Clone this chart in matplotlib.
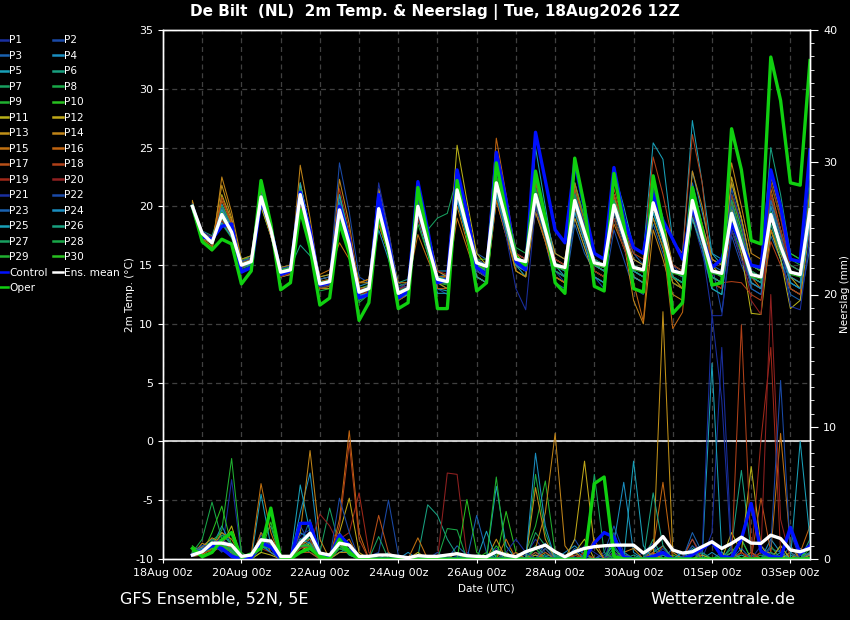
import numpy as np
import pandas as pd
import matplotlib
matplotlib.use('Agg')
import matplotlib.pyplot as plt
import matplotlib.dates as mdates
from matplotlib.ticker import MultipleLocator

# 6-hourly GFS ensemble output, +6h .. +384h from 18Aug2026 12Z
times = pd.date_range('2026-08-18 18:00', periods=64, freq='6h')
tick_days = pd.date_range('2026-08-18', '2026-09-03', freq='2D')

# 2m temperature (degC)
t_mean = [20.0, 17.7, 16.9, 19.3, 17.8, 15.0, 15.3, 20.8, 18.0, 14.4, 14.6, 21.0, 17.5,
          13.4, 13.6, 19.7, 16.8, 12.7, 13.0, 19.8, 16.5, 12.6, 13.0, 20.0, 16.8,
          13.8, 13.6, 21.4, 18.2, 15.2, 14.9, 22.0, 18.8, 15.5, 15.3, 21.0, 18.0,
          15.0, 14.8, 20.5, 17.8, 15.2, 15.0, 20.1, 17.5, 14.8, 14.6, 20.3, 17.6,
          14.5, 14.3, 20.5, 17.4, 14.5, 14.3, 19.4, 16.8, 14.2, 14.0, 19.3, 16.6,
          14.4, 14.2, 19.7]
t_control = [20.0, 17.4, 17.2, 18.3, 18.5, 14.4, 14.8, 20.5, 18.2, 14.2, 14.5, 21.2, 18.0,
             13.3, 13.5, 20.0, 17.2, 12.2, 12.5, 21.0, 17.0, 12.2, 12.8, 22.1, 18.0,
             13.5, 13.8, 23.1, 19.5, 14.8, 14.2, 24.6, 20.5, 15.3, 14.6, 26.3, 22.2,
             18.0, 16.9, 23.7, 19.8, 16.0, 15.5, 23.3, 19.0, 16.5, 16.0, 21.0, 18.8,
             17.2, 15.5, 20.0, 17.5, 14.8, 15.5, 18.5, 16.8, 15.0, 14.8, 23.1, 20.0,
             15.5, 15.3, 24.8]
t_oper = [20.0, 17.0, 16.3, 17.2, 16.8, 13.4, 14.5, 22.2, 18.5, 12.9, 13.5, 19.7, 16.5,
          11.6, 12.2, 18.6, 16.0, 10.3, 11.8, 19.4, 16.2, 11.3, 11.8, 21.6, 17.5,
          11.3, 11.3, 22.2, 18.0, 12.8, 13.5, 23.7, 19.5, 15.7, 15.0, 23.0, 19.0,
          13.5, 12.6, 24.1, 20.0, 13.2, 12.8, 22.8, 18.5, 13.0, 12.7, 22.6, 18.5,
          10.9, 11.8, 21.6, 18.0, 13.3, 13.5, 26.6, 23.1, 17.1, 16.8, 32.7, 29.0,
          22.0, 21.8, 32.4]

p01 = [20.3, 17.5, 17.2, 19.8, 18, 15.2, 15.5, 21.2, 18.3, 14, 14.3, 20.5, 17.2, 13, 13.4, 20.5, 17.5,
       12.5, 13, 20.8, 17, 13, 13.2, 21, 17.5, 14.5, 14, 22, 18.5, 15, 14.5, 23, 19.5, 16, 15.5, 20, 17.5,
       14.5, 13.5, 19, 16.5, 14, 13.5, 21, 18, 15.5, 15, 22, 18.5, 15, 14, 19, 16, 13, 12.5, 18, 16,
       13.5, 13, 21, 18, 15, 14.5, 18]
p02 = [20.1, 17.8, 17.3, 19, 17.6, 14.8, 15, 20.5, 17.8, 14.6, 14.8, 21.5, 18, 13.8, 14, 23.7, 19.5,
       14, 13.5, 21.5, 17.5, 13.5, 13, 19, 16, 13, 12.5, 20.5, 17.5, 14, 13.5, 21, 18, 15, 14.5, 22.5, 19,
       15.5, 15, 21.5, 18, 14, 13, 18, 15.5, 13, 12.5, 19, 16.5, 14, 13.5, 21.5, 18, 15, 11, 17.5, 15,
       13, 12.5, 20, 17.5, 13.5, 13, 22]
p03 = [19.9, 17.4, 16.8, 18.8, 17.5, 15.3, 15.8, 21.8, 18.5, 14.8, 15, 20, 17, 13.2, 13.3, 18.5, 16,
       12, 12.5, 19, 16, 12, 12.5, 21.5, 17.5, 14, 14.2, 22.5, 19, 16, 15.5, 22.5, 19, 15, 14.5, 19.5, 17,
       13.5, 13, 18.5, 16, 14.5, 14, 21, 18, 16, 15, 18.5, 16, 13.5, 13, 22, 18.5, 15.5, 15, 20.5, 17,
       13, 12.5, 17.5, 15.5, 12.5, 12, 16.5]
p04 = [20.2, 17.6, 17, 20.2, 18.3, 15.4, 15.2, 20.2, 17.5, 14.2, 14.4, 21.8, 18.2, 13.6, 13.5, 19, 16.5,
       13.2, 13.5, 18, 15.5, 12.5, 13, 20, 17, 14.5, 14.5, 21, 17.5, 14.5, 14, 21.5, 18.5, 15, 14.5, 22, 19,
       16, 15.5, 20, 17.5, 15, 14.5, 19, 16.5, 14, 13.5, 21, 18, 15, 14.5, 23, 19.5, 16, 15.5, 21, 18,
       14.5, 14, 18.5, 16, 13.5, 13, 20.5]
p05 = [20, 17.3, 16.9, 19.5, 18, 14.9, 15, 21, 18, 14, 14.2, 20.8, 17.5, 13.5, 13.7, 20.5, 17,
       12.5, 12.8, 19.5, 16.5, 12.8, 13, 19, 16, 13, 12.8, 20.5, 17.5, 14.5, 14, 21, 18, 15, 14, 20.5, 17.5,
       14, 13.5, 22, 19, 15.5, 15, 23, 20, 16.5, 16, 25.4, 24, 17, 16, 27.3, 22, 16, 15, 20, 17,
       13.5, 13, 18, 15.5, 13, 12.5, 19]
p06 = [19.8, 17.9, 17.5, 20, 18.2, 15.5, 15.8, 20, 17.5, 14.5, 14.8, 16.7, 15.8, 14, 14.2, 18.5, 16.5,
       13, 13.2, 20.5, 17, 13.5, 13.8, 20.5, 17.5, 14, 13.8, 21, 18, 14.8, 14.5, 22.5, 19, 16, 15.5, 20.5, 17.5,
       14.5, 14, 21.5, 18.5, 15.5, 15, 19.5, 17, 14, 13.5, 21.5, 18.5, 14.5, 14, 19.5, 17, 14, 13.5, 22, 19,
       15, 14.5, 25, 21, 16, 15.5, 21]
p07 = [20.1, 17.7, 17.1, 19, 17.7, 14.7, 15, 20.5, 18, 14.8, 15, 21.2, 17.8, 13, 13.2, 20, 17,
       12.8, 13, 19.5, 16.5, 13.2, 13.5, 19.5, 18, 19, 19.4, 22.5, 19, 15.5, 15, 22, 19, 15.5, 15, 20, 17.5,
       15, 14.5, 19.5, 17, 14.5, 14, 20.5, 18, 15, 14.5, 19.5, 17, 14, 13.5, 21, 18, 14.5, 14, 20, 17.5,
       15, 14.5, 19.5, 17, 14.5, 14, 21.5]
p08 = [19.7, 17, 16.5, 19.5, 18, 15, 15.5, 21.5, 18.5, 14, 14.5, 20.5, 17.5, 12.8, 13, 19.5, 16.5,
       11.8, 12.5, 20.5, 17, 12, 12.5, 20.5, 17, 13.5, 13, 21, 18, 15, 15, 23.5, 20, 16.5, 16, 21.5, 18.5,
       15.5, 15, 20.5, 17.5, 14, 13.5, 19.5, 17, 14.5, 14, 20.5, 17.5, 13.5, 13, 19, 16.5, 13, 12.5, 19.5, 17,
       14, 13.5, 20.5, 18, 15.5, 15, 20]
p09 = [20, 17.5, 17, 18.5, 17.3, 14.5, 14.8, 20.5, 17.8, 14.2, 14.4, 21.5, 18, 13.6, 13.8, 19, 16.5,
       13, 13.3, 20, 17, 12.8, 13, 18.5, 16, 13.5, 13.3, 20.5, 17.5, 14, 13.5, 21, 18, 15.5, 15, 22, 19,
       15, 14.5, 21, 18, 15.5, 15, 19, 16.5, 15, 14.5, 20, 17.5, 14, 13.5, 20.5, 17.5, 14.5, 14, 18.5, 16,
       14, 13.5, 18, 16, 14, 13.5, 19.5]
p10 = [19.9, 17.2, 16.6, 20, 18.5, 15.5, 15.6, 20, 17.5, 14.5, 14.7, 20.5, 17.5, 13.5, 13.5, 21, 17.5,
       12, 12.5, 19, 16, 12.5, 13, 21, 17.5, 13.5, 13.5, 21.5, 18.5, 15.5, 15.5, 21, 18, 15, 14.5, 21.5, 18.5,
       14.5, 14, 22, 19, 16, 15.5, 21, 18, 14.5, 14, 19, 16.5, 13.5, 13, 20, 17.5, 14, 13.5, 21, 18,
       15, 14.5, 22, 19, 16, 15.5, 21]
p11 = [20.4, 17, 16.4, 21, 18.8, 15, 15.2, 21, 18, 14, 14.3, 22, 18, 13, 13, 20, 17,
       12.5, 13, 19, 16.5, 12.5, 12.8, 20.5, 17.5, 14, 14, 25.2, 20.5, 16, 15, 21, 18, 14.5, 14, 20.5, 17.5,
       14, 13.5, 21, 18, 15, 14.5, 20, 17.5, 14, 13.5, 22, 19, 15, 14.5, 21.5, 18, 15, 14, 20, 16,
       10.9, 10.8, 18, 15.5, 11.3, 12, 18.5]
p12 = [20.2, 17.6, 17, 19.8, 18.2, 15.2, 15, 20, 17.5, 14.6, 14.8, 21, 17.5, 13.8, 14, 20.5, 17.5,
       13.5, 13.8, 18.5, 16, 12.5, 13, 21.5, 18, 14.5, 14, 23, 19.5, 15.5, 14.5, 24, 20, 16, 15, 21, 18,
       15.5, 15, 19, 16.5, 14, 13.5, 20.5, 18, 15.5, 15, 21, 18, 14, 13, 19, 16.5, 13.5, 13, 22.5, 19,
       15, 14.5, 21, 18, 14, 13, 20]
p13 = [20.3, 17.3, 16.8, 21.8, 19, 15, 15.2, 22, 18.5, 14, 14.2, 21.5, 18, 14, 14.2, 19.5, 17,
       13.5, 13.5, 21.5, 18, 13, 13, 20.5, 17.5, 14, 14, 22, 18.5, 14.5, 14, 22.5, 19, 15, 14.5, 22.5, 19,
       16, 15.5, 21, 18, 15, 14.5, 19.5, 17, 14, 13.5, 20, 17.5, 14.5, 14, 21.5, 18.5, 15.5, 15, 22, 19,
       15, 14.5, 22.5, 19.5, 14.5, 14, 21]
p14 = [20.5, 17, 16.2, 22.5, 19.5, 15.5, 15.8, 21.5, 18.5, 14, 14.3, 23.5, 19, 13.5, 13.5, 22.3, 18.5,
       13, 13.2, 20.5, 17, 13.5, 13.5, 19.5, 16.5, 13.5, 13, 20, 17, 14, 13.5, 20.5, 17.5, 14.5, 14, 19.5, 17,
       14, 13.5, 20, 17, 14.5, 14, 21, 17, 12, 10, 18, 15.5, 12.5, 12, 23, 20, 15.5, 15, 23.7, 20,
       16, 15.5, 20.5, 17.5, 14.5, 14, 18.5]
p15 = [20, 17.8, 17.2, 19.5, 18, 15, 15.3, 20.5, 17.5, 14.8, 15, 20, 17, 14.2, 14.6, 16.9, 15.5,
       13.5, 13.8, 18.5, 16, 13, 13.5, 17.6, 15.5, 13.5, 13.5, 19, 16.5, 14, 13.5, 20.5, 17.5, 15, 14.5, 21.5, 18.5,
       14.5, 14, 22, 18.5, 15, 14.5, 18.5, 16.5, 14.5, 14, 19, 16.5, 13.5, 13, 19.5, 16.5, 14, 13.5, 20.5, 17.5,
       14.5, 14, 21.5, 18, 13, 12.5, 20]
p16 = [20.2, 17.5, 17, 20.5, 18.5, 15.2, 15.5, 21, 18, 14.3, 14.5, 21, 17.5, 13.2, 13.4, 19.5, 16.5,
       12.3, 12.8, 20, 17, 12.5, 13, 20.5, 17, 13, 13, 22.5, 19, 15.5, 15, 25.8, 21, 16, 15.5, 20, 17,
       14, 13.5, 20, 17, 14.5, 14, 20.5, 17.5, 13.5, 10.2, 20.5, 17, 9.6, 11, 21, 18, 14, 13.5, 19.5, 17,
       14, 13, 18, 16, 14, 13.5, 21]
p17 = [20.1, 17.2, 16.6, 20.8, 18.6, 15, 15.4, 21.3, 18.3, 14.5, 14.6, 21.5, 18, 13.6, 13.8, 20.5, 17.5,
       13, 13, 19, 16, 12, 12.5, 20, 17, 14, 14, 21, 18, 15, 14.5, 22.5, 19, 15.5, 15, 22, 19,
       15.5, 15, 21.5, 18.5, 15.5, 15, 21.5, 18.5, 15, 14.5, 21, 18, 14.5, 14, 20, 17, 13.5, 13, 18, 15.5,
       13.5, 13, 19.5, 17, 15, 14.5, 18.5]
p18 = [19.8, 17.6, 17.2, 19, 17.5, 14.8, 15.2, 20.5, 17.5, 14.3, 14.4, 20, 17, 13, 13.2, 19, 16.5,
       12.5, 12.8, 20, 17, 13, 13, 21, 17.5, 14, 13.5, 21.5, 18.5, 15, 14.5, 22, 19, 15.5, 15, 20.5, 18,
       15, 14.5, 20.5, 18, 15.5, 15, 21, 18.5, 16, 15.5, 24.2, 21, 17, 16, 26.1, 22, 14, 13.5, 13.6, 13.5,
       12.5, 12, 17, 15, 13, 12.5, 19.5]
p19 = [20, 17.8, 17.4, 18.8, 17.5, 15.3, 15.6, 20.8, 18, 14.6, 14.8, 20.5, 17.5, 13.2, 13.4, 21.5, 18,
       13, 13, 19.5, 16.5, 13, 13.2, 19, 16.5, 14.5, 14.2, 21, 18, 15, 14.5, 21.5, 18.5, 15, 14.5, 21, 18,
       14.5, 14, 19.5, 17, 15, 14.5, 20, 17.5, 15, 14.5, 20.5, 18, 14.5, 14, 21.5, 18.5, 13.5, 13, 21, 18.5,
       14, 13.5, 22, 19, 14.5, 14, 19]
p20 = [19.9, 17.4, 16.9, 19.5, 18, 15, 15.2, 20.8, 18, 14, 14.3, 21.5, 18, 13.5, 13.6, 20, 17,
       12.5, 12.8, 20, 17, 12.8, 13, 19.5, 16.5, 13.5, 13.5, 21.5, 18.5, 15, 14.5, 22.5, 19.5, 16, 15.5, 21.5, 18.5,
       15.5, 15, 20, 17.5, 14.5, 14, 19, 16.5, 14, 13.5, 21, 18, 15, 14.5, 20.5, 17.5, 14.5, 14, 19, 16.5,
       12, 10.8, 21, 18, 14.5, 14, 18]
p21 = [20.2, 17.9, 17.3, 19.2, 17.8, 14.6, 14.9, 21, 18, 14.2, 14.5, 21, 17.5, 13.5, 13.7, 20.5, 17.5,
       12.2, 12.5, 22, 18, 13, 13.5, 20.5, 17, 13.5, 13.5, 21.5, 18, 14.5, 14, 21, 17.5, 13, 11.2, 20, 17.5,
       15, 14.5, 19.5, 17, 14, 13.5, 20.5, 17.5, 14.5, 14, 21.5, 18, 14.5, 14, 19.5, 16.5, 10.7, 10.7, 18, 15.5,
       13.5, 13, 20, 17, 11.5, 11.2, 17.5]
p22 = [20, 17.6, 17.1, 19.6, 18, 15.1, 15.4, 20.3, 17.8, 14.7, 14.9, 20.8, 17.5, 13.3, 13.5, 19, 16.5,
       12.8, 13.2, 21, 17.5, 12.8, 13.2, 20.5, 17.5, 14, 13.8, 20.5, 17.5, 15, 14.5, 22, 19, 15.5, 15, 21.5, 18.5,
       14.5, 14, 21, 18.5, 15.5, 15, 19.5, 17, 14.5, 14, 20, 17.5, 14, 13.5, 20.5, 17.5, 14.5, 14, 21.5, 18.5,
       14.5, 14, 19, 16.5, 13.5, 13, 23]
p23 = [20.1, 17.5, 16.8, 19.9, 18.3, 15.3, 15.6, 21, 18.2, 14.4, 14.6, 20.5, 17.5, 13.8, 14, 20, 17,
       12.6, 12.9, 19, 16.5, 12.3, 12.8, 19.5, 16.5, 13.5, 13.5, 21, 18, 15.5, 15, 22, 19, 15, 14.5, 20.5, 17.5,
       14.5, 14, 20.5, 17.5, 15, 14.5, 20, 17.5, 15, 14.5, 19.5, 17, 14.5, 14, 21, 18, 15, 14.5, 20, 17.5,
       14, 13.5, 20.5, 17.5, 14.5, 14, 19]
p24 = [19.8, 17.7, 17, 18.6, 17.4, 15, 15.2, 20.6, 17.8, 14.5, 14.7, 21.3, 17.8, 13.4, 13.6, 20.3, 17.2,
       12.4, 12.6, 19.8, 16.5, 12.3, 12.6, 20, 17, 13.8, 13.6, 20.5, 17.5, 15, 14.5, 21.5, 18.5, 15.5, 15, 21, 18,
       15, 14.5, 20, 17.5, 15, 14.5, 20.5, 18, 14.5, 14, 20, 17.5, 14, 13.5, 20, 17, 14, 13.5, 19, 16.5,
       14, 13.5, 19.5, 17, 14, 13.5, 20.5]
p25 = [20, 17.4, 16.9, 19.7, 18.1, 15.1, 15.4, 21.5, 18.3, 14.6, 14.8, 22, 18, 13.4, 13.6, 21, 17.5,
       12.4, 12.6, 20.5, 17, 12.2, 12.5, 19.5, 16.5, 12.6, 12.6, 21, 17.5, 14, 13.5, 21, 18, 15, 14.5, 25, 20,
       15, 14, 19.5, 17, 14, 13.5, 20, 17.5, 14, 13.5, 19.5, 17, 14, 13.5, 19, 16.5, 13, 12.5, 19.5, 17,
       13.5, 13, 20, 17, 13.5, 13, 18.5]
p26 = [20.1, 17.6, 17, 19.3, 17.9, 14.9, 15.1, 20.7, 18, 14.4, 14.6, 21, 17.6, 13.4, 13.6, 19.5, 16.8,
       12.8, 13, 20, 16.8, 12.6, 13, 20, 16.8, 14, 13.8, 21.5, 18.2, 15, 14.5, 22, 18.8, 15.5, 15, 21, 18,
       15, 14.5, 20.5, 17.8, 15, 14.5, 20, 17.5, 14.5, 14, 20.5, 17.5, 14.5, 14, 20.5, 17.5, 14, 13.5, 19.5, 17,
       14, 13.5, 19, 16.5, 14.5, 14, 19.5]
p27 = [20, 17.5, 17, 19.2, 17.8, 15, 15.3, 20.9, 18, 14.3, 14.5, 21.2, 17.7, 13.5, 13.7, 20, 17,
       12.7, 13, 19.5, 16.5, 12.7, 13, 20.2, 17, 13.8, 13.6, 21.2, 18, 15.2, 14.8, 21.5, 18.5, 15.5, 15, 20.5, 17.5,
       14.5, 14, 21, 18, 15.5, 15, 20.5, 17.5, 15, 14.5, 20, 17.5, 14, 13.5, 20.5, 17.5, 14.5, 14, 20.5, 17.5,
       15, 14.5, 18.5, 16, 15, 14.5, 19]
p28 = [19.9, 17.6, 17.1, 19, 17.6, 15, 15.2, 20.4, 17.8, 14.5, 14.7, 20.7, 17.4, 13.3, 13.5, 19.3, 16.6,
       12.7, 13, 20.2, 16.8, 12.8, 13.1, 19.8, 16.8, 13.6, 13.4, 21.2, 18, 15, 14.6, 22.5, 19, 15.2, 15, 21.5, 18.5,
       15.2, 14.8, 20.2, 17.5, 15, 14.8, 20.5, 17.8, 14.8, 14.5, 20, 17.5, 14.5, 14.2, 20, 17.2, 14.5, 14, 19, 16.5,
       14.5, 14, 19.5, 17, 14.5, 14.2, 20]
p29 = [20, 17.5, 16.9, 19.5, 18, 15, 15.3, 21, 18.2, 14.6, 14.8, 21.5, 18, 13.4, 13.6, 20, 17,
       12.6, 12.9, 19.8, 16.5, 12.6, 13, 19.8, 16.8, 13.7, 13.5, 21.5, 18.2, 15.2, 14.9, 22, 18.8, 15.5, 15.3, 21, 18,
       15, 14.8, 20.5, 17.8, 15.2, 15, 20, 17.5, 14.8, 14.6, 20.3, 17.6, 14.5, 14.3, 20.5, 17.4, 14.5, 14.3, 19.4, 16.8,
       14.2, 14, 19.3, 16.6, 14.4, 14.2, 19.7]
p30 = [20.1, 17.7, 17.2, 19.4, 17.9, 15.1, 15.4, 20.6, 17.8, 14.3, 14.5, 20.8, 17.4, 13.5, 13.7, 19.5, 16.6,
       12.8, 13.1, 19.6, 16.4, 12.7, 13.1, 19.8, 16.6, 13.9, 13.7, 21.2, 18, 15, 14.7, 21.8, 18.6, 15.3, 15.1, 20.8, 17.8,
       14.8, 14.6, 20.3, 17.6, 15, 14.8, 19.9, 17.3, 14.6, 14.4, 20.1, 17.4, 14.3, 14.1, 20.3, 17.2, 14.3, 14.1, 19.2, 16.6,
       14, 13.8, 19.1, 16.4, 14.2, 14, 19.5]

# precipitation (mm / 6h)
r_mean = [0.3, 0.55, 1.2, 1.2, 1.05, 0.2, 0.3, 1.45, 1.35, 0.2, 0.2, 1.2, 1.95, 0.45, 0.3, 1.2, 1.05,
          0.2, 0.2, 0.3, 0.3, 0.2, 0.1, 0.25, 0.2, 0.2, 0.3, 0.4, 0.25, 0.2, 0.17, 0.55, 0.3, 0.17, 0.55, 0.8, 1.05,
          0.55, 0.17, 0.55, 0.8, 0.93, 1.0, 1.05, 1.05, 1.05, 0.45, 0.93, 1.7, 0.68, 0.45, 0.55, 0.93, 1.3, 0.8, 1.18, 1.65,
          1.2, 1.18, 1.8, 1.55, 0.68, 0.55, 0.8]
r_control = [0.3, 0.6, 1.0, 0.8, 0.2, 0, 0.1, 1.2, 0.9, 0, 0, 2.7, 2.7, 0.3, 0.1, 1.8, 1.05,
             0, 0, 0, 0, 0, 0, 0, 0, 0, 0, 0, 0, 0, 0, 0, 0, 0, 0, 0, 0,
             0, 0, 0, 0, 1.2, 2.0, 1.65, 0.17, 0, 0, 0.2, 0.5, 0, 0, 0.3, 0.8, 1.3, 0.2, 0.1, 1.5,
             4.2, 0.6, 0.2, 0.1, 2.4, 0.4, 1.0]
r_oper = [0.8, 0.17, 0.5, 1.45, 2.0, 0.1, 0.4, 0.8, 3.85, 0.1, 0, 0.5, 0.8, 0.2, 0, 1.5, 0.5,
          0, 0, 0, 0, 0, 0, 0, 0, 0, 0, 0, 0, 0, 0, 0, 0, 0, 0, 0, 0,
          0, 0, 0, 0, 5.7, 6.2, 0.2, 0, 0, 0, 0, 0, 0, 0, 0, 0, 0, 0, 0, 0,
          0, 0, 0, 0, 0, 0, 0]

r01 = [0.5, 0.8, 1.2, 0.5, 6.0, 0.2, 0, 1.0, 0.8, 0, 0, 1.5, 2.0, 0.3, 0, 1.0, 0.5, 0, 0, 0, 0, 0, 0, 0.3, 0,
       0, 0, 0, 0.5, 0, 0, 0.8, 0.2, 0, 0.3, 1.5, 0.5, 0, 0, 0.2, 1.0, 0.5, 0, 0.2, 0, 0, 0.5, 1.2, 0.3,
       0, 0, 0.5, 0, 2.0, 16.0, 0.5, 0, 0, 1.0, 0.3, 0, 0.5, 0, 1.2]
r02 = [0.2, 0.5, 0.8, 1.5, 0.6, 0, 0.2, 1.8, 1.0, 0, 0, 2.5, 1.2, 0, 0.2, 0.8, 0.4, 0, 0.2, 0.5, 4.45, 0.3, 0, 0, 0,
       0, 0, 0.2, 0, 0, 0, 0, 0.5, 0, 0, 0.8, 0, 0, 0, 1.5, 0.3, 0, 0.5, 2.5, 0.5, 0, 0, 0, 0.8,
       0, 0.2, 1.5, 0.3, 0, 0.5, 0, 0, 0.3, 0, 0.8, 0.5, 0, 0.3, 0]
r03 = [0.6, 1.0, 1.5, 1.0, 0.5, 0.2, 0, 2.0, 1.2, 0.2, 0, 1.0, 3.0, 0.5, 0, 2.0, 1.0, 0, 0, 0, 0, 0, 0, 0, 0.2,
       0, 0, 1.0, 0.3, 0, 0, 0, 0, 0.5, 0, 0, 1.2, 0, 0, 0.5, 0, 0, 0.3, 1.0, 0, 0, 0, 0.4, 0,
       0.8, 0, 2.0, 0.5, 0, 0, 0, 1.5, 0, 0.5, 0, 0, 1.0, 0, 0.4]
r04 = [0.3, 0.6, 0.9, 2.5, 1.0, 0, 0.3, 1.2, 0.5, 0, 0, 3.5, 6.5, 0.3, 0, 1.5, 0.5, 0, 0, 0, 0, 0, 0.5, 0, 0,
       0, 0, 0, 0, 0, 0.3, 0.5, 0, 0, 0, 0.5, 0.2, 0, 0.5, 1.0, 0.3, 0, 0, 1.2, 5.8, 0.5, 0, 0, 0.3,
       0, 0, 0.8, 0, 0.5, 0, 0, 0, 0, 0, 1.5, 0.5, 0, 0.8, 0]
r05 = [0.7, 0.9, 1.3, 0.8, 0.6, 0.2, 0, 4.9, 1.0, 0, 0.2, 2.0, 1.5, 0, 0, 0.5, 0.8, 0, 0, 0, 0.5, 0, 0, 0, 0,
       0, 0, 0, 0, 0, 0, 5.5, 1.0, 0, 0, 0.3, 0, 0.3, 0, 0, 0, 0, 0, 0.5, 0, 0, 0, 0.5, 1.0,
       0, 0, 0, 0, 14.8, 0.5, 0, 0.3, 0, 0, 0.5, 0, 0, 0.5, 0.3]
r06 = [0.4, 0.7, 1.0, 1.8, 1.2, 0, 0.2, 1.5, 2.5, 0, 0, 1.0, 0.5, 0, 0, 1.2, 0.3, 0, 0, 0, 0, 0, 0, 0.2, 4.1,
       3.3, 1.5, 0.3, 0, 0, 0, 0.5, 0, 0, 0, 1.0, 0.3, 0.2, 0, 0.5, 0, 0, 0, 0.8, 0, 0.3, 0, 0.8, 0,
       0, 0.5, 0, 0, 0, 0, 1.0, 6.7, 0.5, 0, 0, 0, 0.3, 0, 1.5]
r07 = [0.8, 0.6, 1.4, 2.0, 1.0, 0.3, 0, 1.0, 1.5, 0, 0, 0.8, 1.8, 0.5, 3.85, 1.0, 0.3, 0, 0, 0, 0, 0, 0, 0, 0,
       0, 0, 0.5, 0, 0.3, 0, 0, 0, 0, 0, 2.0, 1.0, 0.3, 0, 0, 0, 0, 0, 0, 0.5, 0, 0, 1.5, 0,
       0, 0, 0, 0.5, 0, 0, 0.8, 0, 0, 0.3, 0, 1.0, 0, 0, 0.5]
r08 = [0.5, 1.5, 4.3, 1.5, 0.8, 0, 0.2, 0.8, 1.0, 0, 0, 1.2, 1.0, 0.2, 0, 0.5, 0.5, 0, 0, 0, 0, 0, 0, 0, 0,
       0.2, 0, 0, 0, 0, 0, 0.3, 0.5, 0, 0, 6.4, 2.0, 0, 0, 0, 0.3, 0, 0, 0.5, 0, 0, 0, 0, 0.5,
       0, 0, 1.0, 0, 0, 0.3, 0, 0, 0, 0, 1.0, 0, 0.5, 0, 0]
r09 = [0.3, 0.8, 1.0, 2.2, 7.6, 0.5, 0, 1.2, 0.8, 0, 0, 1.5, 1.5, 0, 0, 1.0, 0.8, 0, 0, 0, 0, 0, 0, 0, 0,
       0, 0, 0, 0.3, 0, 0, 1.0, 0, 0, 0.5, 2.5, 5.9, 0.5, 0, 0, 0, 0, 0, 0.3, 0.5, 0, 0, 0, 0,
       0, 0, 0.5, 0, 0, 0, 0, 0.5, 0, 0, 0.3, 0, 0, 0, 0.8]
r10 = [1.0, 0.4, 2.0, 4.0, 1.0, 0.2, 0, 0.5, 2.8, 0, 0.2, 0.5, 1.0, 0, 0, 1.5, 0.5, 0, 0, 0, 0, 0, 0, 0, 0,
       0, 0, 0, 0, 0, 0.5, 0, 3.6, 0.5, 0, 0.8, 0, 0, 0, 0.5, 0, 0, 0, 1.5, 0.3, 0, 0, 0, 0,
       0.3, 0, 0, 0, 0, 0, 0.5, 1.5, 0, 0, 0, 0.3, 0, 0.5, 0]
r11 = [0.2, 0.3, 0.8, 1.0, 2.5, 0, 0, 0.5, 0.3, 0, 0, 1.0, 0.8, 0, 0, 1.5, 0.5, 0, 0, 0, 0, 0, 0, 0.5, 0,
       0, 0, 0, 0, 0, 0, 0, 0, 0, 0, 0, 0.8, 0, 0, 0.5, 1.5, 0, 0, 0, 0, 0, 0, 0.3, 0,
       0, 0, 0, 0.3, 0, 0, 2.0, 0.5, 7.0, 1.0, 0, 0, 0.5, 0, 0]
r12 = [0.4, 0.5, 1.1, 1.2, 0.5, 0, 0, 1.5, 0.8, 0, 0, 0.5, 1.2, 0, 0, 2.0, 4.6, 0.5, 0, 0, 0, 0, 0, 0, 0,
       0, 0, 0, 0, 0, 0, 0, 0.5, 0, 0, 0.3, 0, 0, 0, 1.5, 7.4, 1.0, 0, 0, 0.3, 0, 0, 0.5, 0,
       0, 0, 0, 0, 0, 0, 0.5, 0, 0, 0, 0, 1.0, 0, 0, 0.5]
r13 = [0.6, 0.9, 1.6, 1.2, 0.4, 0, 0, 1.0, 1.2, 0, 0, 1.5, 1.0, 0.3, 0, 1.2, 0.5, 0, 0, 0, 0, 0, 0, 0, 0,
       0, 0, 0, 0, 0, 0, 1.5, 0, 0, 0, 5.4, 1.5, 0, 0, 0, 0.5, 0, 0, 0.5, 0, 0, 0, 0, 18.7,
       0.5, 0, 0, 0, 0, 0, 0, 0, 0, 0.5, 0.5, 0, 0, 0, 0]
r14 = [0.3, 1.2, 0.8, 2.0, 1.5, 0.2, 0, 1.0, 1.0, 0, 0, 2.0, 8.2, 1.5, 0, 0.5, 0.5, 0, 0, 0, 0, 0, 0, 0, 0,
       0, 0, 0.5, 0, 0, 0, 0, 0, 0, 0.5, 0.8, 3.5, 9.5, 1.0, 0, 0, 0, 0, 0, 0.5, 0.8, 0, 0, 0,
       0, 0, 0.5, 0, 0, 0, 0, 0, 0.5, 0, 0, 0, 0, 0, 0.3]
r15 = [0.5, 0.5, 1.0, 0.8, 1.0, 0, 0.3, 5.7, 2.0, 0, 0, 1.0, 0.8, 0, 0, 1.0, 1.5, 0, 0, 0, 0, 0, 0, 1.6, 0,
       0, 0, 0, 0, 0, 0, 0, 1.5, 0, 0, 0, 0, 0, 0, 0.5, 0, 1.5, 0, 0, 0, 0, 0, 0, 0.5,
       0, 0, 0, 0, 0, 0, 0, 0.5, 0, 0, 0.5, 9.5, 1.0, 0, 0]
r16 = [0.4, 0.8, 1.2, 1.5, 0.8, 0, 0, 2.0, 0.5, 0, 0, 1.0, 1.5, 0, 0, 3.0, 9.7, 2.0, 0, 0, 0, 0, 0, 0, 0,
       0, 0, 0, 0, 0, 0, 0, 0, 0.5, 0, 0, 0.5, 0, 0, 0, 0, 0, 0, 0, 0, 0, 0, 0.8, 5.8,
       0, 0, 0, 0, 0, 0, 0, 0, 0, 0, 0, 0, 0, 0.5, 2.5]
r17 = [0.6, 0.7, 0.5, 1.0, 0.8, 0.3, 0, 1.5, 1.0, 0, 0, 0.5, 0.5, 0, 0, 1.0, 0.5, 0, 0, 3.3, 0.5, 0, 0, 0, 0,
       0, 0, 0, 0, 0, 0, 0, 0, 0, 0, 0.5, 0, 0, 0, 0, 0, 0, 0, 0, 0.3, 0, 0, 0.5, 0,
       0, 0, 0, 0, 0, 0, 0, 0.5, 0, 4.6, 0.5, 0, 0, 0, 0]
r18 = [0.2, 0.4, 0.7, 1.2, 0.5, 0, 0, 1.0, 1.5, 0, 0, 0.8, 1.0, 0, 0, 2.5, 8.8, 1.5, 0, 0, 0, 0, 0, 0, 0,
       0, 0, 0, 0, 0, 0, 0, 0, 0, 0, 0, 0, 0, 0, 0.3, 0, 0, 0, 0, 0, 0, 0, 0, 1.0,
       0, 0, 1.5, 0, 0, 0, 0, 17.7, 0.5, 0, 0, 0, 0, 0, 0]
r19 = [0.5, 0.6, 0.9, 0.7, 0.3, 0, 0, 0.8, 0.5, 0, 0, 1.2, 0.8, 0, 0, 1.5, 2.0, 5.0, 0.5, 0, 0, 0, 0, 0, 0,
       0, 0, 0, 0, 0, 0, 0, 0, 0, 0, 0, 0, 0, 0, 0, 0.5, 0, 0, 0, 0, 0, 0, 0, 0,
       0, 0, 0, 0, 0, 0, 0, 0.5, 0, 9.0, 16.0, 0.5, 0, 0, 0]
r20 = [0.3, 0.5, 1.0, 0.8, 0.6, 0, 0, 1.2, 0.8, 0, 0, 1.0, 1.0, 3.4, 2.5, 1.0, 0.5, 0, 0, 0, 0, 0, 0, 0, 0,
       0, 6.5, 6.4, 0.2, 0, 0, 0, 0, 0, 0, 0, 0, 0, 0, 0, 0, 0, 0, 0.5, 0, 0, 0, 0, 0,
       0, 0, 0, 0, 0, 0, 0, 0, 0, 0.5, 20.0, 3.0, 0, 0, 0]
r21 = [0.4, 0.8, 1.2, 1.5, 1.0, 0, 0, 1.5, 1.0, 0, 0, 1.8, 2.2, 0, 0, 1.5, 0.5, 0, 0, 0, 0, 0, 0, 0, 0,
       0, 0, 0, 0, 0, 0, 0, 0.5, 1.5, 0.5, 0, 0, 0, 0, 0, 0, 0, 0, 0.5, 0, 0, 0, 0, 0.5,
       0, 0, 1.0, 0.5, 18.5, 12.0, 0, 0, 0, 0, 0.5, 0, 2.0, 0, 0]
r22 = [0.5, 1.0, 1.0, 0.6, 0.4, 0, 0, 0.8, 1.2, 0, 0, 1.0, 1.0, 0.2, 0, 4.6, 2.0, 0, 0, 0, 0, 0, 0, 0, 0,
       0.5, 0, 0, 0, 0, 0, 0, 0, 0, 0, 0, 0.8, 0, 0, 0, 0, 0, 0, 2.0, 0, 0, 0, 0, 0,
       0, 0, 0.5, 0, 0, 0, 0, 0, 0, 0, 1.0, 13.5, 0.5, 0, 0]
r23 = [0.3, 0.7, 1.1, 0.9, 0.5, 0, 0, 1.3, 1.0, 0, 0, 1.2, 1.8, 0, 0, 1.0, 0.5, 0, 0, 0, 0, 0, 0, 0, 0,
       0, 0, 0, 0, 3.3, 0.5, 0, 0, 0, 0, 0, 0, 0, 0, 0.8, 0, 0, 0, 0, 0.5, 0, 0, 1.0, 0,
       0, 0, 0, 0, 0, 0, 0, 0.8, 0, 0, 0, 0, 0, 0, 0.5]
r24 = [0.5, 0.8, 0.9, 1.0, 0.7, 0, 0, 1.0, 0.5, 0, 0, 1.5, 1.2, 0, 0, 0.8, 0.5, 0, 0, 0, 0, 0, 0, 0, 0,
       0, 0, 0, 0, 0, 0, 0, 0, 0, 0, 8.0, 2.5, 0, 0, 0, 0, 0, 0, 0, 0, 0, 0, 0, 0,
       0, 0.5, 0, 0, 0, 0, 0, 0, 0, 0, 0, 0.5, 0, 0, 0]
r25 = [0.6, 0.5, 1.0, 1.2, 0.6, 0, 0, 1.1, 1.0, 0, 0, 5.6, 2.0, 0, 0, 1.0, 0.5, 0, 0, 0, 0, 0, 0, 0, 0,
       0, 0, 0, 0, 0, 2.1, 0, 0, 0, 0, 0, 0, 0, 0, 0, 0, 0, 0, 0, 0, 7.4, 1.0, 0, 0,
       0, 0, 0, 0, 0, 0, 0, 0, 0, 0, 0, 0, 0, 8.9, 1.5]
r26 = [0.4, 0.6, 1.0, 1.0, 0.8, 0, 0, 1.0, 0.8, 0, 0, 1.0, 1.0, 0, 0, 1.0, 0.6, 0, 0, 0, 0, 0, 0, 0, 0,
       0, 0, 0, 0, 0, 0, 0, 0, 0, 0, 0, 0, 0, 0, 0, 0, 0, 0, 0, 0, 0, 0, 5.0, 1.0,
       0, 0, 0, 0, 0, 0, 0.5, 0, 0, 0, 0, 0, 0, 0, 0]
r27 = [0.5, 0.7, 1.0, 1.1, 0.7, 0, 0, 0.9, 1.0, 0, 0, 1.0, 1.2, 0, 0, 1.0, 0.5, 0, 0, 1.7, 0, 0, 0, 0, 0,
       0, 0, 0, 0, 0, 0, 0, 0, 0, 0, 0, 0, 0, 0, 0, 0, 6.4, 0.5, 0, 0, 0, 0, 0, 0,
       0, 0, 0, 0, 0, 0, 0, 0, 0, 0, 0, 0, 0, 0, 0]
r28 = [0.4, 0.6, 0.9, 1.0, 0.8, 0, 0, 1.0, 1.0, 0, 0, 1.0, 1.0, 0, 0, 0.8, 0.5, 0, 0, 0, 0, 0, 0, 0, 0,
       0, 2.3, 2.2, 0, 0, 0, 0, 0, 0, 0, 0, 0, 0, 0, 0, 0, 0, 0, 0, 0, 0, 0, 0, 0,
       0, 0, 0, 0, 0, 0, 0, 0, 0, 0, 0.5, 0, 0, 0, 0]
r29 = [0.5, 0.7, 1.0, 1.0, 0.7, 0, 0, 1.0, 1.0, 0, 0, 1.0, 1.0, 0, 0, 0.8, 0.5, 0, 0, 0, 0, 0, 0, 0, 0,
       0, 0, 0, 0, 0, 0, 6.2, 0, 0, 0, 0, 0, 0, 0, 0, 0, 0, 0, 0, 0, 0, 0, 0, 0,
       0, 0, 0, 0, 0, 0, 0, 0, 0, 0, 0, 0, 0, 0, 0]
r30 = [0.6, 0.5, 0.8, 1.0, 0.5, 0, 0, 1.0, 0.8, 0, 0, 1.0, 1.0, 0, 0, 1.0, 0.5, 0, 0, 0, 0, 0, 0, 0, 0,
       0, 0, 0, 4.5, 0.5, 0, 0, 0, 0, 0, 0, 0, 0, 0, 0, 0, 0, 0, 0, 0, 0, 0, 0, 0,
       0, 0, 0, 0, 0, 0, 0, 0, 0, 0, 0, 0, 0, 0, 0]

member_temps = [p01, p02, p03, p04, p05, p06, p07, p08, p09, p10, p11, p12, p13, p14, p15,
                p16, p17, p18, p19, p20, p21, p22, p23, p24, p25, p26, p27, p28, p29, p30]
member_precip = [r01, r02, r03, r04, r05, r06, r07, r08, r09, r10, r11, r12, r13, r14, r15,
                 r16, r17, r18, r19, r20, r21, r22, r23, r24, r25, r26, r27, r28, r29, r30]

# 20-colour cycle, P21..P30 reuse the first ten
cycle = ['#1a2fa0', '#1a4aa8', '#1a62b0', '#1a8ec0', '#18a0b8', '#18a080', '#18a060', '#18a848',
         '#20b030', '#28c020', '#b8b018', '#c0a818', '#c09018', '#c08418', '#c07010', '#c06410',
         '#b85018', '#b04018', '#a02818', '#902020']

BG = 'black'
plt.rcParams['axes.unicode_minus'] = False
fig = plt.figure(figsize=(8.5, 6.2), dpi=100, facecolor=BG)
ax = fig.add_axes([163/850, 1-559/620, (810-163)/850, (559-30)/620], facecolor=BG)
ax2 = ax.twinx()

handles = []
for k in range(30):
    c = cycle[k % 20]
    h, = ax.plot(times, member_temps[k], color=c, lw=0.75, label='P%d' % (k+1))
    ax2.plot(times, member_precip[k], color=c, lw=0.75)
    handles.append(h)

hc, = ax.plot(times, t_control, color='#0010ff', lw=2.4, label='Control')
ax2.plot(times, r_control, color='#0010ff', lw=2.4)
ho, = ax.plot(times, t_oper, color='#10d010', lw=2.4, label='Oper')
ax2.plot(times, r_oper, color='#10d010', lw=2.4)
hm, = ax.plot(times, t_mean, color='white', lw=2.4, label='Ens. mean')
ax2.plot(times, r_mean, color='white', lw=2.4)

ax.axhline(0, color='white', lw=1.1, zorder=1)

ax.set_ylim(-10, 35)
ax2.set_ylim(0, 40)
ax.set_xlim(pd.Timestamp('2026-08-18 00:00'), pd.Timestamp('2026-09-03 12:00'))
ax.yaxis.set_major_locator(MultipleLocator(5))
ax2.yaxis.set_major_locator(MultipleLocator(10))
ax2.yaxis.set_minor_locator(MultipleLocator(1))
ax.set_xticks(tick_days)
ax.xaxis.set_minor_locator(mdates.DayLocator())
ax.xaxis.set_major_formatter(mdates.DateFormatter('%d%b %Hz'))

grid_kw = dict(color='#404040', lw=0.9, ls=(0, (4, 3)))
ax.grid(True, which='both', axis='x', **grid_kw)
ax.grid(True, which='major', axis='y', **grid_kw)
ax.set_axisbelow(True)

for a in (ax, ax2):
    for s in a.spines.values():
        s.set_color('white')
        s.set_linewidth(1.0)
    a.tick_params(colors='white', labelsize=8)
ax.tick_params(axis='x', which='minor', length=0)
ax.tick_params(axis='x', which='major', length=3)
ax2.tick_params(axis='y', which='major', length=6)
ax2.tick_params(axis='y', which='minor', length=3, color='white')

ax.set_ylabel('2m Temp. (°C)', color='white', fontsize=7.5, labelpad=0)
ax2.set_ylabel('Neerslag (mm)', color='white', fontsize=7.5, labelpad=2)
ax.set_xlabel('Date (UTC)', color='white', fontsize=7.5, labelpad=4)

fig.text(0.512, 0.981, 'De Bilt  (NL)  2m Temp. & Neerslag | Tue, 18Aug2026 12Z',
         color='white', fontsize=11, fontweight='bold', ha='center', va='center')
fig.text(120/850, 1-599/620, 'GFS Ensemble, 52N, 5E', color='white', fontsize=11.5,
         ha='left', va='center')
fig.text(795/850, 1-599/620, 'Wetterzentrale.de', color='white', fontsize=11.5,
         ha='right', va='center')

# legend filled row by row: P1 P2 / P3 P4 / ... / Control Ens. mean / Oper
col1 = handles[0::2] + [hc, ho]
col2 = handles[1::2] + [hm]
leg = fig.legend(col1 + col2, [h.get_label() for h in col1 + col2], ncol=2,
                 loc='upper left', bbox_to_anchor=(-0.002, 0.943), frameon=False,
                 fontsize=7.6, handlelength=0.95, handletextpad=0.1, columnspacing=0.5,
                 labelspacing=0.52, borderaxespad=0, borderpad=0)
for t in leg.get_texts():
    t.set_color('white')
for h in leg.legend_handles:
    h.set_linewidth(1.8)

fig.savefig('out.png', dpi=100, facecolor=BG)
